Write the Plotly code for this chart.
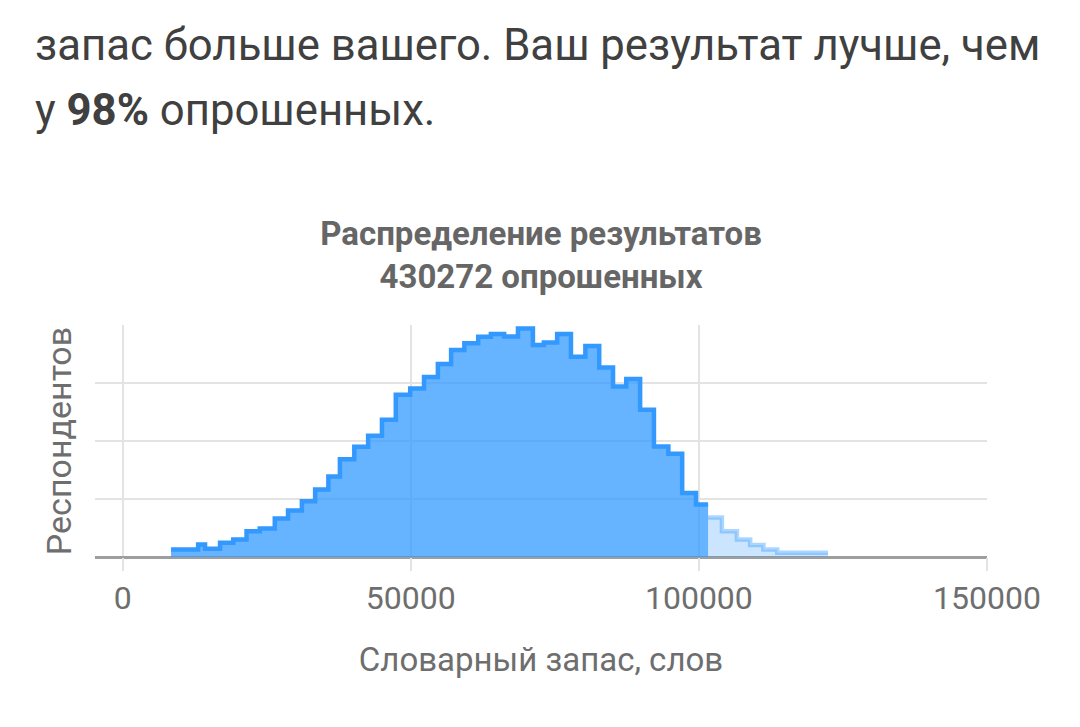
import plotly.graph_objects as go

# bin edges (vocabulary size, words) and respondents per bin
vocab_edges = [8400, 13100, 14300, 16900, 19200, 21500, 23800, 26400, 28700, 31100,
               33400, 35700, 37700, 40200, 42600, 45000, 47400, 49900, 52300, 54700,
               57000, 59300, 61700, 63900, 66200, 68600, 71200, 73100, 75400, 77800,
               80300, 82700, 85100, 87400, 89800, 92200, 94700, 97100, 99500, 101600,
               104000, 106600, 108900, 111200, 113600, 122400]
respondents = [650, 1080, 710, 1220, 1510, 2220, 2450, 3310, 4000, 4800,
               5810, 6950, 8430, 9500, 10450, 11830, 13980, 14530, 15520, 16640,
               17850, 18420, 18990, 19220, 19010, 19710, 18280, 18490, 19220, 17270,
               18190, 16340, 14690, 15350, 12690, 9530, 8900, 5520, 4520, 3400,
               2220, 1510, 1030, 650, 360]
user_score = 101600
total_respondents = 430272
better_than = 98

x_ticks = [0, 50000, 100000, 150000]

cut = vocab_edges.index(user_score)


def step_xy(i0, i1):
    # left edges of bins i0..i1-1 plus closing right edge, value repeated at the end
    xs = vocab_edges[i0:i1 + 1]
    ys = respondents[i0:i1] + [respondents[i1 - 1]]
    return xs, ys


fig = go.Figure()

x_lo, y_lo = step_xy(0, cut)
fig.add_scatter(x=x_lo, y=y_lo, mode='lines', line_shape='hv',
                line=dict(color='rgb(51,153,255)', width=4.5),
                fill='tozeroy', fillcolor='rgba(51,153,255,0.75)')

x_hi, y_hi = step_xy(cut, len(respondents))
fig.add_scatter(x=x_hi, y=y_hi, mode='lines', line_shape='hv',
                line=dict(color='rgba(51,153,255,0.4)', width=4.5),
                fill='tozeroy', fillcolor='rgba(51,153,255,0.25)')

fig.update_traces(showlegend=False, hoverinfo='skip')

grey = '#6e6e6e'

fig.update_xaxes(range=[-4800, 150000], tickvals=x_ticks, ticktext=[str(v) for v in x_ticks],
                 showgrid=True, gridcolor='#e3e3e3', gridwidth=2, zeroline=False,
                 ticks='outside', ticklen=13, tickcolor='#e3e3e3', tickwidth=2,
                 tickfont=dict(family='Roboto', size=32, color=grey), showline=False,
                 title=dict(text='Словарный запас, слов', standoff=31,
                            font=dict(family='Roboto', size=33, color=grey)))
fig.update_yaxes(range=[0, 20001], dtick=5000, showticklabels=False,
                 showgrid=True, gridcolor='#e3e3e3', gridwidth=2,
                 zeroline=True, zerolinecolor='#9e9e9e', zerolinewidth=3,
                 title=dict(text='Респондентов', standoff=12,
                            font=dict(family='Roboto', size=34, color=grey)))

# page text above the chart (the page body shifts the figure by 8px)
top_font = dict(family='Roboto', size=43.7, color='#404040')
fig.add_annotation(text='запас больше вашего. Ваш результат лучше, чем',
                   xref='paper', yref='paper', x=-0.0695, y=(557.5 - 44) / 232.5,
                   xanchor='left', yanchor='middle', showarrow=False, font=top_font)
fig.add_annotation(text=f'у <b>{better_than}%</b> опрошенных.',
                   xref='paper', yref='paper', x=-0.0695, y=(557.5 - 110) / 232.5,
                   xanchor='left', yanchor='middle', showarrow=False, font=top_font)

fig.update_layout(
    width=1080, height=727,
    margin=dict(l=87, r=101, t=317, b=178),
    paper_bgcolor='white', plot_bgcolor='white',
    title=dict(text=f'<b>Распределение результатов<br>{total_respondents} опрошенных</b>',
               x=0.5, xref='paper', xanchor='center',
               y=1 - 237 / 727, yanchor='middle',
               font=dict(family='Roboto', size=33, color='#666666')),
)

fig.write_html('out.html')
